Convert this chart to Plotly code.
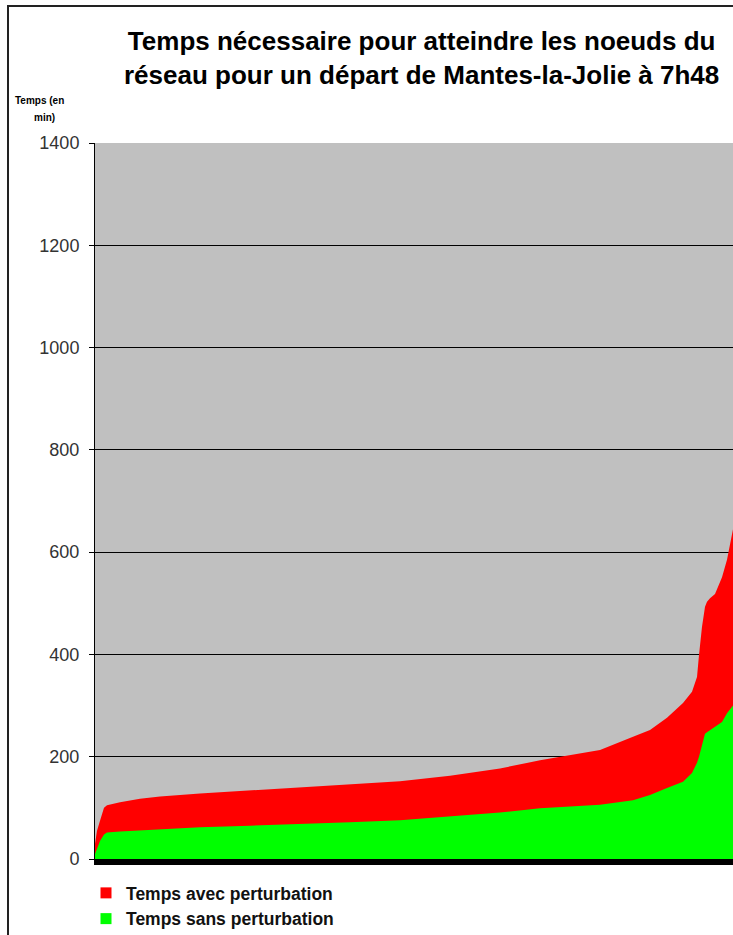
import plotly.graph_objects as go

# Node rank (sorted by travel time) and travel times in minutes
node_rank = [0, 2, 5, 9, 12, 25, 45, 65, 105, 155, 205, 255, 305, 355, 405, 445, 485, 505,
             538, 555, 572, 588, 597, 602, 604, 605, 607, 609, 610, 612, 615, 620, 627, 632, 637, 638]
temps_avec = [30, 55, 75, 100, 105, 111, 118, 122, 128, 134, 140, 146, 152, 163, 177, 193, 207, 213,
              239, 252, 276, 305, 327, 356, 399, 420, 454, 480, 493, 503, 510, 518, 551, 585, 637, 645]
temps_sans = [10, 20, 35, 48, 52, 54, 56, 59, 62, 65, 68, 72, 76, 83, 91, 99, 104, 106,
              115, 125, 139, 151, 168, 188, 200, 207, 225, 239, 245, 248, 252, 258, 268, 285, 297, 300]

y_ticks = [0, 200, 400, 600, 800, 1000, 1200, 1400]

FONT = "Liberation Sans, Arial, sans-serif"
RED = "#ff0000"
GREEN = "#00ff00"

fig = go.Figure()
fig.add_trace(go.Scatter(x=node_rank, y=temps_avec, mode="lines", line=dict(width=0, color=RED),
                         fill="tozeroy", fillcolor=RED, showlegend=False, hoverinfo="skip"))
fig.add_trace(go.Scatter(x=node_rank, y=temps_sans, mode="lines", line=dict(width=0, color=GREEN),
                         fill="tozeroy", fillcolor=GREEN, showlegend=False, hoverinfo="skip"))
# legend entries
fig.add_trace(go.Scatter(x=[None], y=[None], mode="markers", name="<b>Temps avec perturbation</b>",
                         marker=dict(symbol="square", size=11, color=RED)))
fig.add_trace(go.Scatter(x=[None], y=[None], mode="markers", name="<b>Temps sans perturbation</b>",
                         marker=dict(symbol="square", size=11, color=GREEN)))

W, H = 733, 935
ml, mr, mt, mb = 95, 0, 143, 76
pw, ph = W - ml - mr, H - mt - mb

def px_x(p):
    return (p - ml) / pw

def px_y(p):
    return (H - mb - p) / ph

fig.update_layout(
    width=W, height=H,
    margin=dict(l=ml, r=mr, t=mt, b=mb, autoexpand=False),
    paper_bgcolor="white",
    plot_bgcolor="#c0c0c0",
    font=dict(family=FONT, color="black"),
    xaxis=dict(range=[0, 638], showticklabels=False, ticks="", showgrid=False, zeroline=False,
               showline=True, linecolor="black", linewidth=6),
    yaxis=dict(range=[0, 1400], tickvals=y_ticks, ticktext=[str(v) for v in y_ticks],
               ticks="outside", ticklen=5, tickcolor="black", tickfont=dict(size=18, color="#333"),
               ticklabelstandoff=6,
               showgrid=True, gridcolor="black", gridwidth=1, zeroline=False,
               showline=True, linecolor="black", linewidth=1),
    legend=dict(x=px_x(86), y=px_y(875), xanchor="left", yanchor="top", bgcolor="rgba(0,0,0,0)",
                font=dict(size=17.5, color="#111", family=FONT), itemwidth=30, tracegroupgap=0),
    showlegend=True,
)

fig.add_annotation(text="<b>Temps nécessaire pour atteindre les noeuds du<br>réseau pour un départ de Mantes-la-Jolie à 7h48</b>",
                   xref="paper", yref="paper", x=px_x(422), y=px_y(58), xanchor="center", yanchor="middle",
                   showarrow=False, font=dict(size=26, family=FONT, color="black"), align="center")
fig.add_annotation(text="<b>Temps (en</b>", xref="paper", yref="paper", x=px_x(40), y=px_y(101),
                   xanchor="center", yanchor="middle", showarrow=False,
                   font=dict(size=10, family=FONT, color="black"))
fig.add_annotation(text="<b>min)</b>", xref="paper", yref="paper", x=px_x(45), y=px_y(118),
                   xanchor="center", yanchor="middle", showarrow=False,
                   font=dict(size=10, family=FONT, color="black"))

# outer frame
fig.add_shape(type="rect", xref="paper", yref="paper", x0=px_x(8), x1=px_x(745), y0=px_y(6), y1=px_y(945),
              line=dict(color="#222", width=2), fillcolor="rgba(0,0,0,0)", layer="above")

fig.write_html("out.html", config={"displayModeBar": False},
               post_script="document.body.style.margin='0';document.body.style.overflow='hidden';")
